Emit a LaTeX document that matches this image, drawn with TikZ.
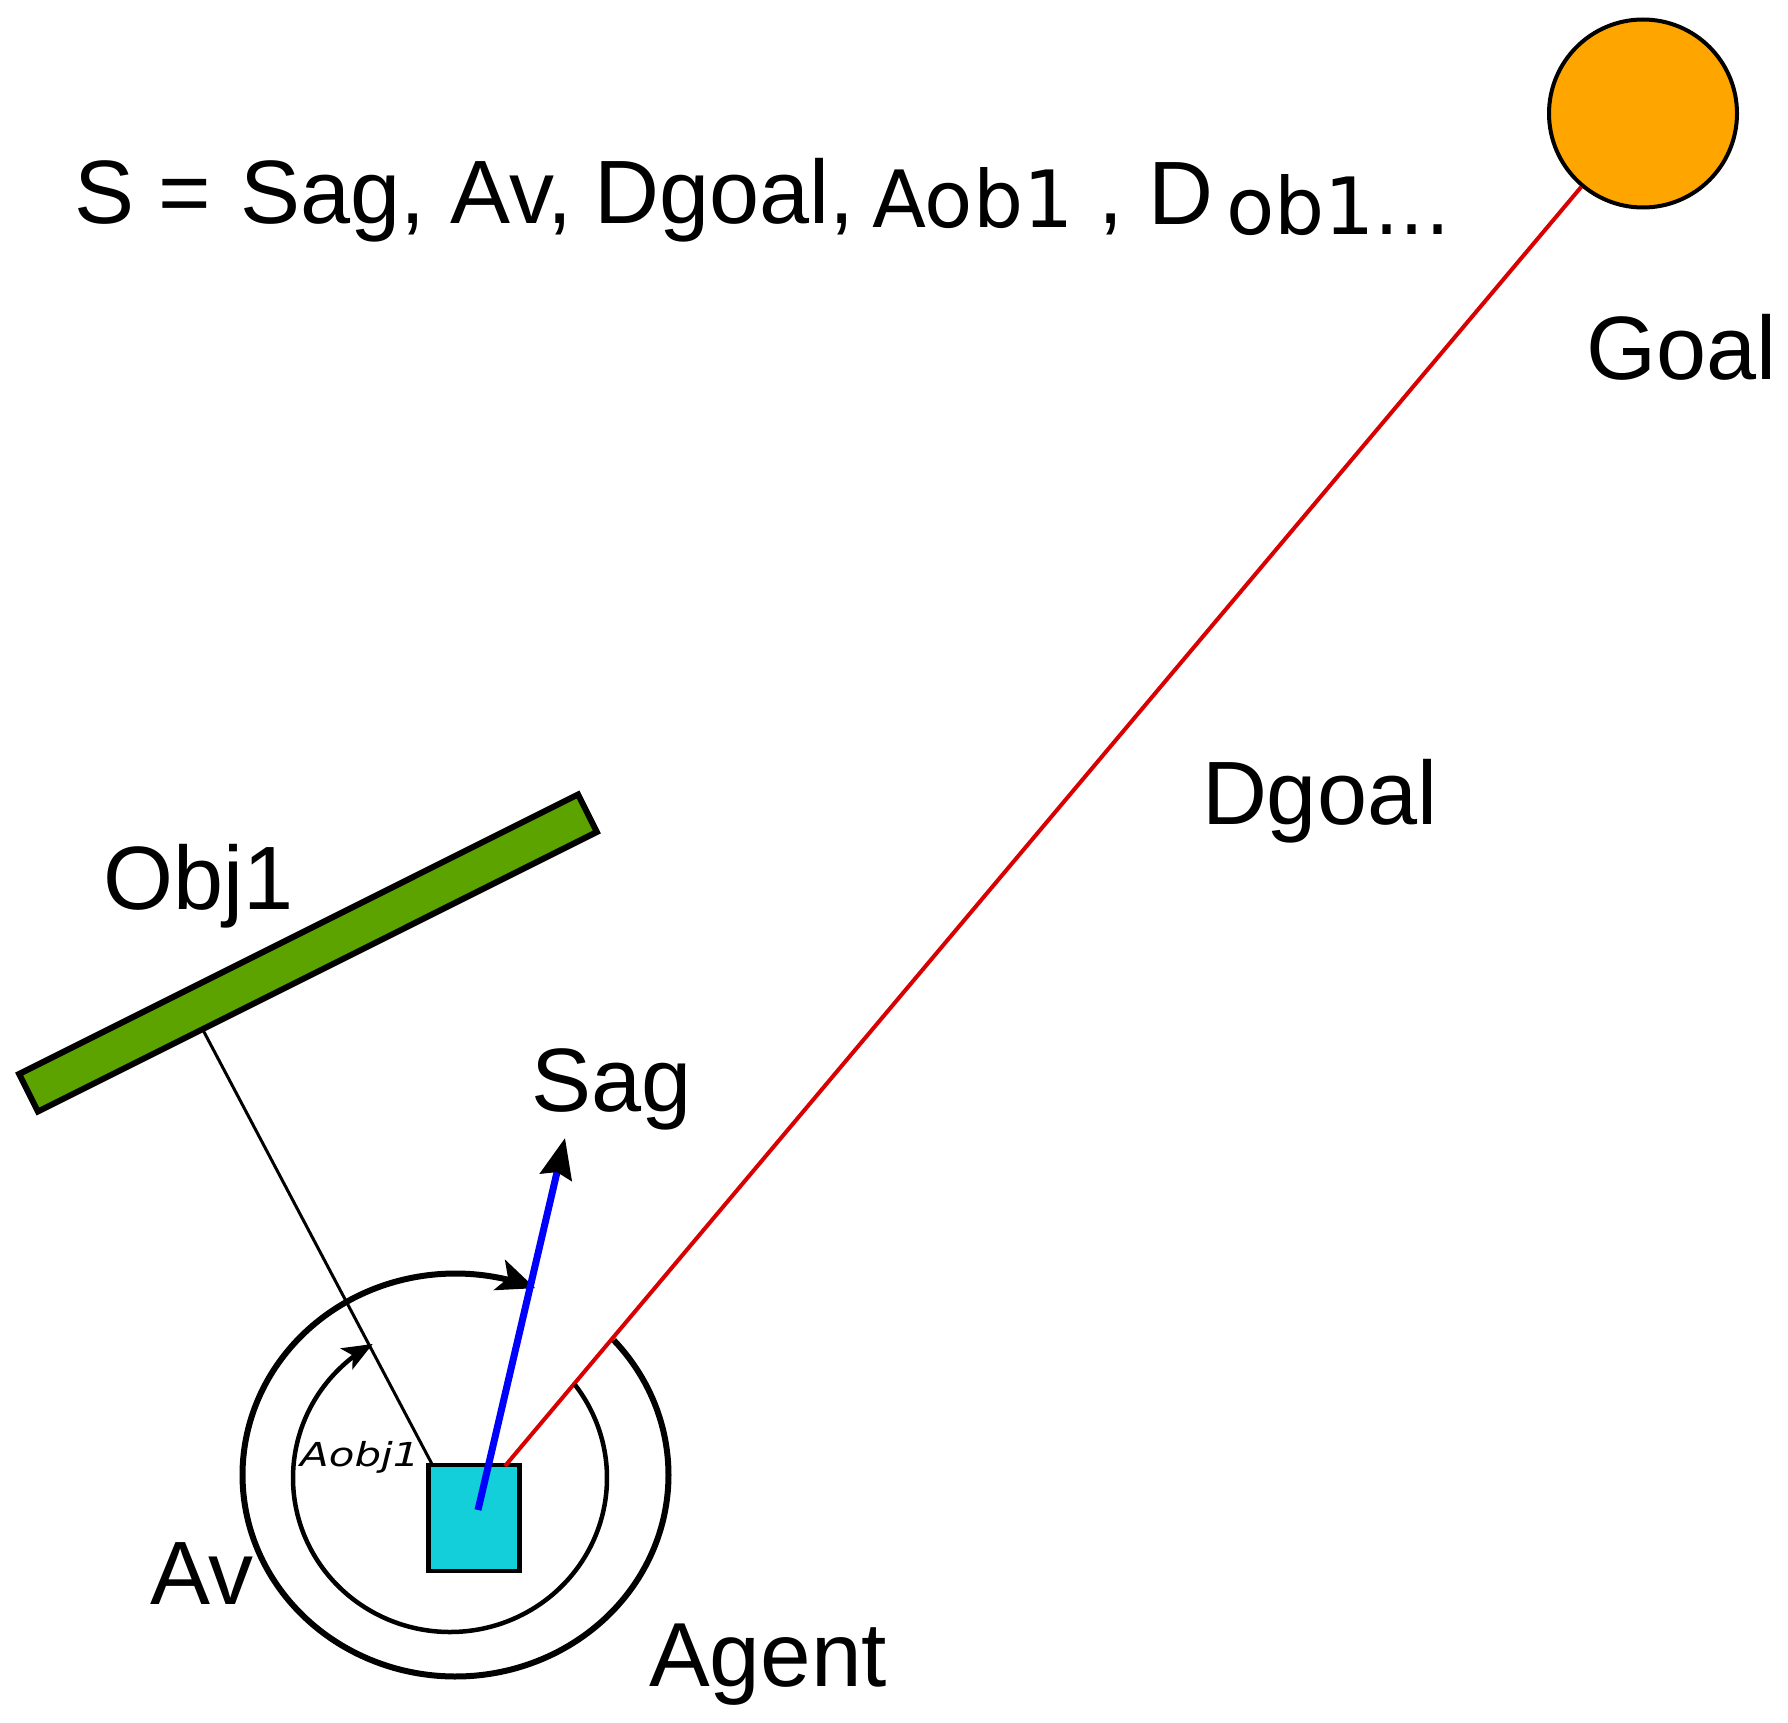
\documentclass[tikz,border=0pt]{standalone}
\usepackage{fontspec}
\setmainfont{Liberation Sans}
\newfontfamily\dejavu{DejaVu Sans}
\usetikzlibrary{arrows.meta}
\definecolor{goalorange}{HTML}{FFA500}
\definecolor{objgreen}{HTML}{5CA300}
\definecolor{agentcyan}{HTML}{12CFDA}
\definecolor{dgoalred}{HTML}{D80000}
\tikzset{
  lab/.style={anchor=base west,inner sep=0pt,outer sep=0pt,font=\fontsize{90}{90}\selectfont},
  sublab/.style={anchor=base west,inner sep=0pt,outer sep=0pt,font=\fontsize{79}{79}\selectfont\dejavu},
  ring/.style={draw=black,line width=#1},
}
\begin{document}
\begin{tikzpicture}[x=1pt,y=-1pt]
\useasboundingbox (0,0) rectangle (1788,1723);
% named coordinates
\coordinate (redstart) at (505,1466);
\coordinate (thinstart) at (433,1466);
\coordinate (thinend) at (203,1030);
\coordinate (bluestart) at (478,1510);
\coordinate (sagtip) at (565,1138);
% shapes
\node[draw=black,fill=goalorange,circle,line width=4pt,minimum size=188pt,inner sep=0pt] (goal) at (1643,113.5) {};
\node[draw=black,fill=objgreen,line width=6pt,rotate=26.57,minimum width=625pt,minimum height=42pt,inner sep=0pt] (obj) at (308,953) {};
\node[draw=black,fill=agentcyan,line width=4.5pt,minimum width=91pt,minimum height=106pt,inner sep=0pt] (agent) at (474,1518) {};
% connectors
\draw[black,line width=3pt] (thinstart) -- (thinend);
\draw[dgoalred,line width=4pt] (redstart) -- (goal);
% angle arcs
\draw[ring=6pt,-{Stealth[length=38pt,width=32pt,inset=9pt]}] plot[domain=-42:292,samples=160,smooth] ({455.5+213*cos(\x)},{1475+201.5*sin(\x)});
\draw[ring=4.5pt,-{Stealth[length=30pt,width=24pt,inset=7pt]}] plot[domain=-37.3:240.5,samples=140,smooth] ({450+157*cos(\x)},{1478+154*sin(\x)});
\draw[blue,line width=7pt,-{Stealth[black,length=40pt,width=32pt,inset=5pt]}] (bluestart) -- (sagtip);
% labels
\node[lab] (s) at (74,223) {S = \hspace{4pt}Sag, Av,\hspace{-3pt} Dgoal,};
\node[sublab] (aob) at (872,228) {Aob1};
\node[lab] (comma) at (1098,223) {,};
\node[lab] (d) at (1148,225) {D};
\node[sublab] (ob) at (1226,234) {ob1...};
\node[lab] (goallabel) at (1586,379) {Goal};
\node[lab] (objlabel) at (103,909) {Obj1};
\node[lab] (dgoallabel) at (1202,824) {Dgoal};
\node[lab] (saglabel) at (531,1111) {Sag};
\node[lab] (avlabel) at (150,1604) {Av};
\node[anchor=base west,inner sep=0pt,font=\fontsize{91}{91}\selectfont] (agentlabel) at (649,1686) {Agent};
\node[anchor=base west,inner sep=0pt,font=\fontsize{33}{33}\selectfont\dejavu\itshape] (aobj) at (300,1466) {\scalebox{1.27}[1]{Aobj1}};
\end{tikzpicture}
\end{document}
